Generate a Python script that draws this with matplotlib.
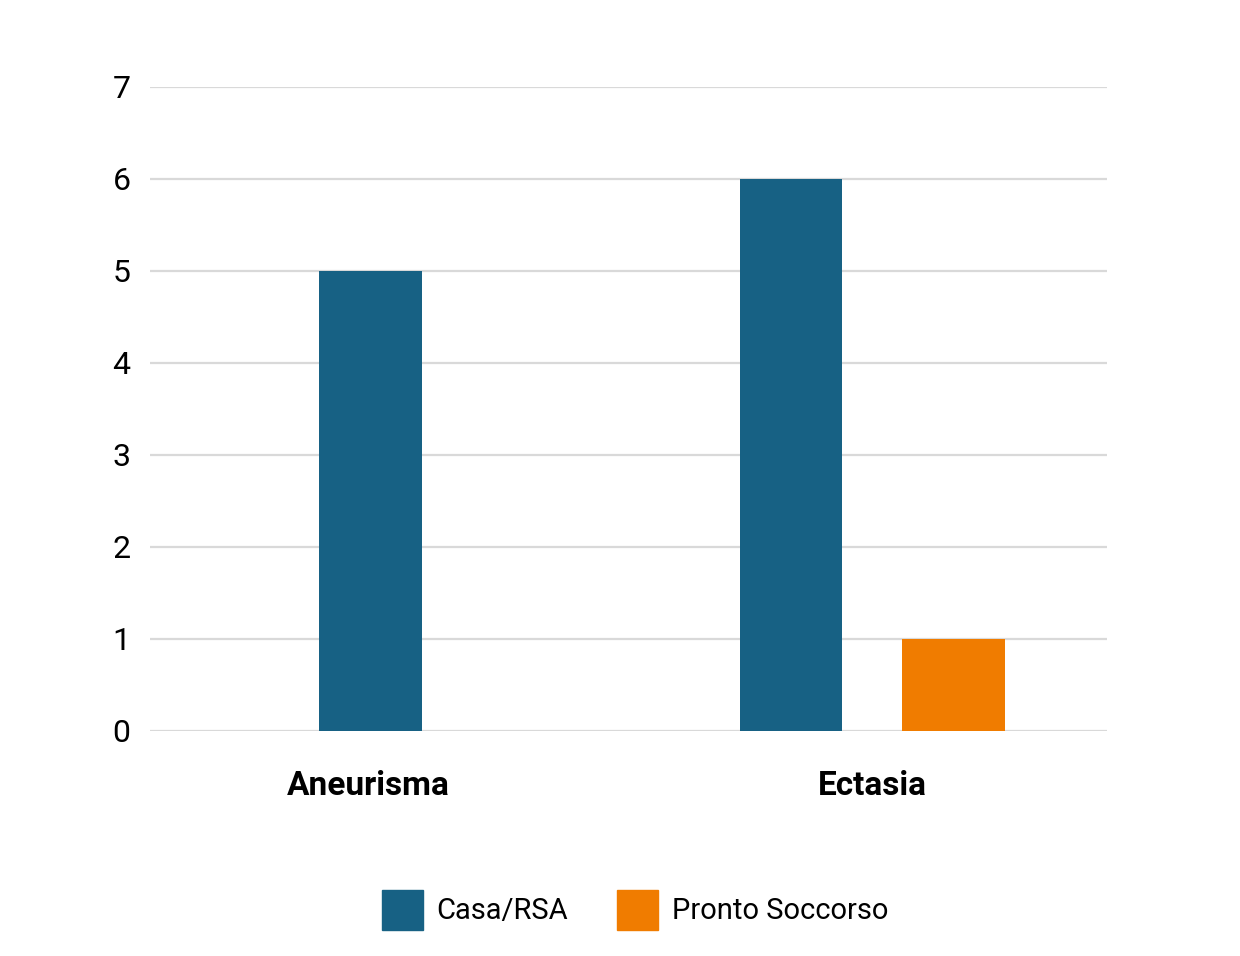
import matplotlib.pyplot as plt
from matplotlib.patches import Patch

categories = ["Aneurisma", "Ectasia"]
series_names = ["Casa/RSA", "Pronto Soccorso"]
casa_rsa = [5, 6]
pronto_soccorso = [None, 1]  # no Pronto Soccorso bar for Aneurisma
y_ticks = [0, 1, 2, 3, 4, 5, 6, 7]

BLUE = "#176184"
ORANGE = "#F07C00"
GRID = "#d9d9d9"

plt.rcParams["font.family"] = ["Roboto", "DejaVu Sans"]

fig = plt.figure(figsize=(12.4, 9.56), dpi=100)
ax = fig.add_axes([150 / 1240, 225 / 956, 957 / 1240, 644 / 956])

bar_w = 0.204
offset = 0.161
for i, cat in enumerate(categories):
    vals = [casa_rsa[i], pronto_soccorso[i]]
    present = [(v, c) for v, c in zip(vals, [BLUE, ORANGE]) if v is not None]
    if len(present) == 1:
        positions = [i + 0.005]
    else:
        positions = [i - offset, i + offset]
    for pos, (v, c) in zip(positions, present):
        ax.bar(pos, v, width=bar_w, color=c, zorder=3)

ax.set_xlim(-0.4325, 1.466)
ax.set_ylim(0, 7)
ax.set_yticks(y_ticks)
ax.set_yticklabels([str(t) for t in y_ticks], fontsize=23)
ax.set_xticks(range(len(categories)))
ax.set_xticklabels(categories, fontsize=24, fontweight="bold")
ax.tick_params(axis="y", length=0, pad=14)
ax.tick_params(axis="x", length=0, pad=28)
ax.grid(axis="y", color=GRID, linewidth=1.6, zorder=0)
for s in ax.spines.values():
    s.set_visible(False)

handles = [Patch(color=BLUE), Patch(color=ORANGE)]
fig.legend(handles, series_names, loc="center", bbox_to_anchor=(635 / 1240, 1 - 910 / 956),
           ncol=2, frameon=False, fontsize=21, handlelength=1.4, handleheight=1.78,
           handletextpad=0.46, columnspacing=1.7)

fig.savefig("out.png", dpi=100)
